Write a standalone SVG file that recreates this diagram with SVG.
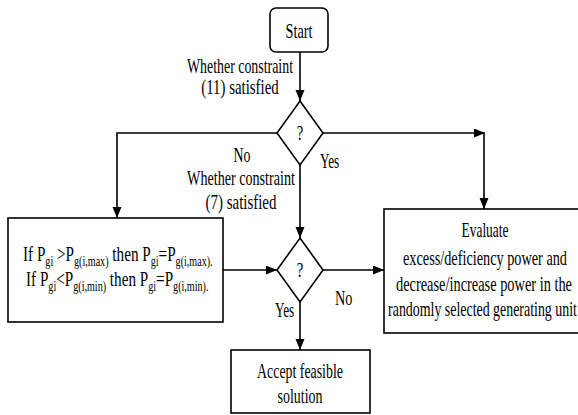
<svg xmlns="http://www.w3.org/2000/svg" width="578" height="415" viewBox="0 0 578 415">
<defs>
<marker id="arr" markerUnits="userSpaceOnUse" markerWidth="12" markerHeight="10" refX="11" refY="4.5" orient="auto">
<path d="M0,0 L11,4.5 L0,9 Z" fill="#000"/>
</marker>
<style>
.box{fill:#fff;stroke:#000;stroke-width:1.6}
.ln{fill:none;stroke:#000;stroke-width:1.6}
text{font-family:"Liberation Serif","Times New Roman",serif;font-size:21px;fill:#000}
.c{text-anchor:middle}
.s{font-size:14px}
</style>
</defs>
<rect width="578" height="415" fill="#fff"/>
<g id="connectors">
<line class="ln" x1="300" y1="52" x2="300" y2="101" marker-end="url(#arr)"/>
<polyline class="ln" points="277,133 117,133 117,218" marker-end="url(#arr)"/>
<line class="ln" x1="323" y1="133" x2="485" y2="133" marker-end="url(#arr)"/>
<line class="ln" x1="484" y1="133" x2="484" y2="209" marker-end="url(#arr)"/>
<line class="ln" x1="300" y1="165" x2="300" y2="238" marker-end="url(#arr)"/>
<line class="ln" x1="223" y1="270" x2="277" y2="270" marker-end="url(#arr)"/>
<line class="ln" x1="323" y1="270" x2="384" y2="270" marker-end="url(#arr)"/>
<line class="ln" x1="300" y1="302" x2="300" y2="350" marker-end="url(#arr)"/>
</g>
<g id="labels">
<text class="c" transform="translate(240,73) scale(0.661,1)">Whether constraint</text>
<text class="c" transform="translate(240,94) scale(0.708,1)">(11) satisfied</text>
<text class="c" transform="translate(242,162) scale(0.66,1)">No</text>
<text class="c" transform="translate(241,185) scale(0.673,1)">Whether constraint</text>
<text class="c" transform="translate(241,209) scale(0.71,1)">(7) satisfied</text>
<text transform="translate(320,168) scale(0.63,1)">Yes</text>
<text transform="translate(275,317) scale(0.63,1)">Yes</text>
<text transform="translate(335,305) scale(0.68,1)">No</text>
</g>
<g id="start">
<rect class="box" x="270" y="8" width="58" height="44" rx="6"/>
<text class="c" transform="translate(299,38) scale(0.68,1)">Start</text>
</g>
<g id="decision1">
<polygon class="box" points="300,101 323,133 300,165 277,133"/>
<text class="c" transform="translate(300,140) scale(0.7,1)">?</text>
</g>
<g id="decision2">
<polygon class="box" points="300,238 323,270 300,302 277,270"/>
<text class="c" transform="translate(300,277) scale(0.7,1)">?</text>
</g>
<g id="limit">
<rect class="box" x="8" y="218" width="215" height="104"/>
<text transform="translate(23,261) scale(0.723,1)">If P<tspan class="s" dy="5">gi</tspan><tspan dy="-5"> &gt;P</tspan><tspan class="s" dy="5">g(i,max)</tspan><tspan dy="-5"> then P</tspan><tspan class="s" dy="5">gi</tspan><tspan dy="-5">=P</tspan><tspan class="s" dy="5">g(i,max).</tspan></text>
<text transform="translate(26,286) scale(0.723,1)">If P<tspan class="s" dy="5">gi</tspan><tspan dy="-5">&lt;P</tspan><tspan class="s" dy="5">g(i,min)</tspan><tspan dy="-5"> then P</tspan><tspan class="s" dy="5">gi</tspan><tspan dy="-5">=P</tspan><tspan class="s" dy="5">g(i,min).</tspan></text>
</g>
<g id="evaluate">
<rect class="box" x="384" y="209" width="202" height="124"/>
<text class="c" transform="translate(485,237) scale(0.64,1)">Evaluate</text>
<text class="c" transform="translate(485,265) scale(0.68,1)">excess/deficiency power and</text>
<text class="c" transform="translate(484,291) scale(0.685,1)">decrease/increase power in the</text>
<text class="c" transform="translate(482.5,316) scale(0.663,1)">randomly selected generating unit</text>
</g>
<g id="accept">
<rect class="box" x="231" y="350" width="139" height="63"/>
<text class="c" transform="translate(300,378) scale(0.66,1)">Accept feasible</text>
<text class="c" transform="translate(300,403) scale(0.665,1)">solution</text>
</g>
</svg>
